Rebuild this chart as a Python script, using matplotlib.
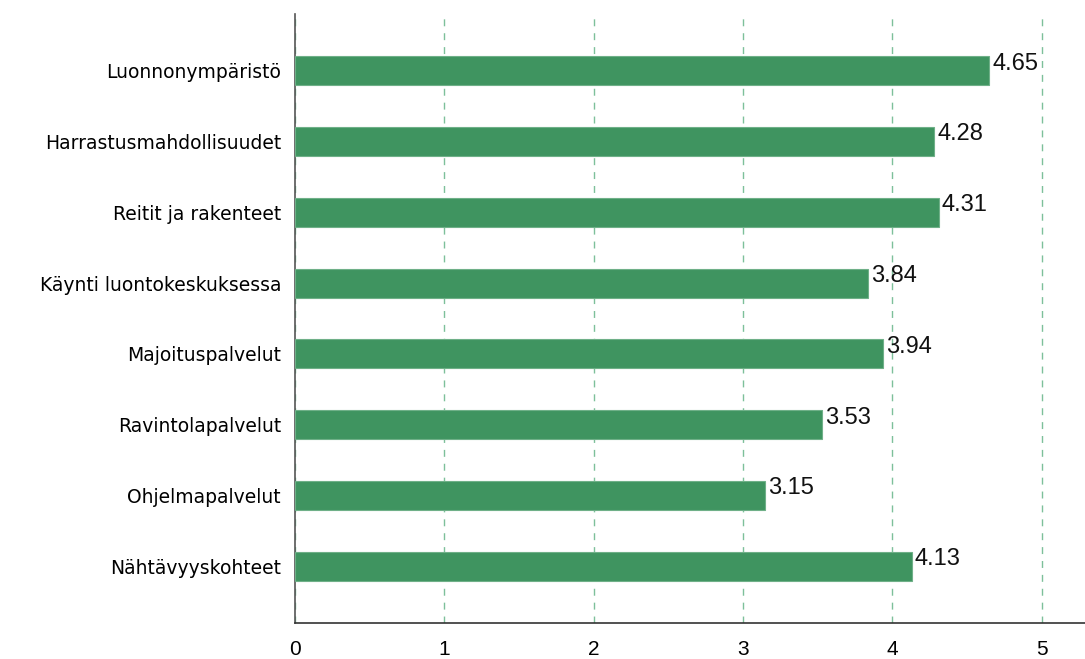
import matplotlib
matplotlib.use("Agg")
import matplotlib.pyplot as plt

categories = [
    "Luonnonympäristö",
    "Harrastusmahdollisuudet",
    "Reitit ja rakenteet",
    "Käynti luontokeskuksessa",
    "Majoituspalvelut",
    "Ravintolapalvelut",
    "Ohjelmapalvelut",
    "Nähtävyyskohteet",
]
values = [4.65, 4.28, 4.31, 3.84, 3.94, 3.53, 3.15, 4.13]
xticks = [0, 1, 2, 3, 4, 5]

bar_color = "#3f9460"
grid_color = "#7dc09a"

fig = plt.figure(figsize=(10.85, 6.59), dpi=100)
ax = fig.add_axes([0.2719, 0.0546, 0.7281, 0.9242])

ypos = list(range(len(categories)))
ax.barh(ypos, values, height=0.41, color=bar_color, edgecolor="#6fb088",
        linewidth=0.8, zorder=3)

# value labels sit a bit above the bar centre
for y, v in zip(ypos, values):
    ax.text(v + 0.02, y - 0.1, f"{v:.2f}", va="center", ha="left",
            fontsize=17, family="Liberation Sans", color="#111111", zorder=4)

ax.set_xlim(0, 5.29)
ax.set_ylim(len(categories) - 0.2, -0.8)
ax.set_xticks(xticks)
ax.set_xticklabels([str(t) for t in xticks], fontsize=15, family="Liberation Sans")
ax.set_yticks(ypos)
ax.set_yticklabels(categories, fontsize=13.5, family="DejaVu Sans")
ax.tick_params(axis="both", length=0)
ax.tick_params(axis="y", pad=10)
ax.tick_params(axis="x", pad=12)

ax.grid(axis="x", color=grid_color, linestyle=(0, (5, 5)), linewidth=1.0, zorder=0)
for s in ["top", "right"]:
    ax.spines[s].set_visible(False)
ax.spines["left"].set_color("#555555")
ax.spines["bottom"].set_color("#333333")
ax.spines["left"].set_linewidth(1.2)
ax.spines["bottom"].set_linewidth(1.2)

fig.savefig("out.png", dpi=100)
